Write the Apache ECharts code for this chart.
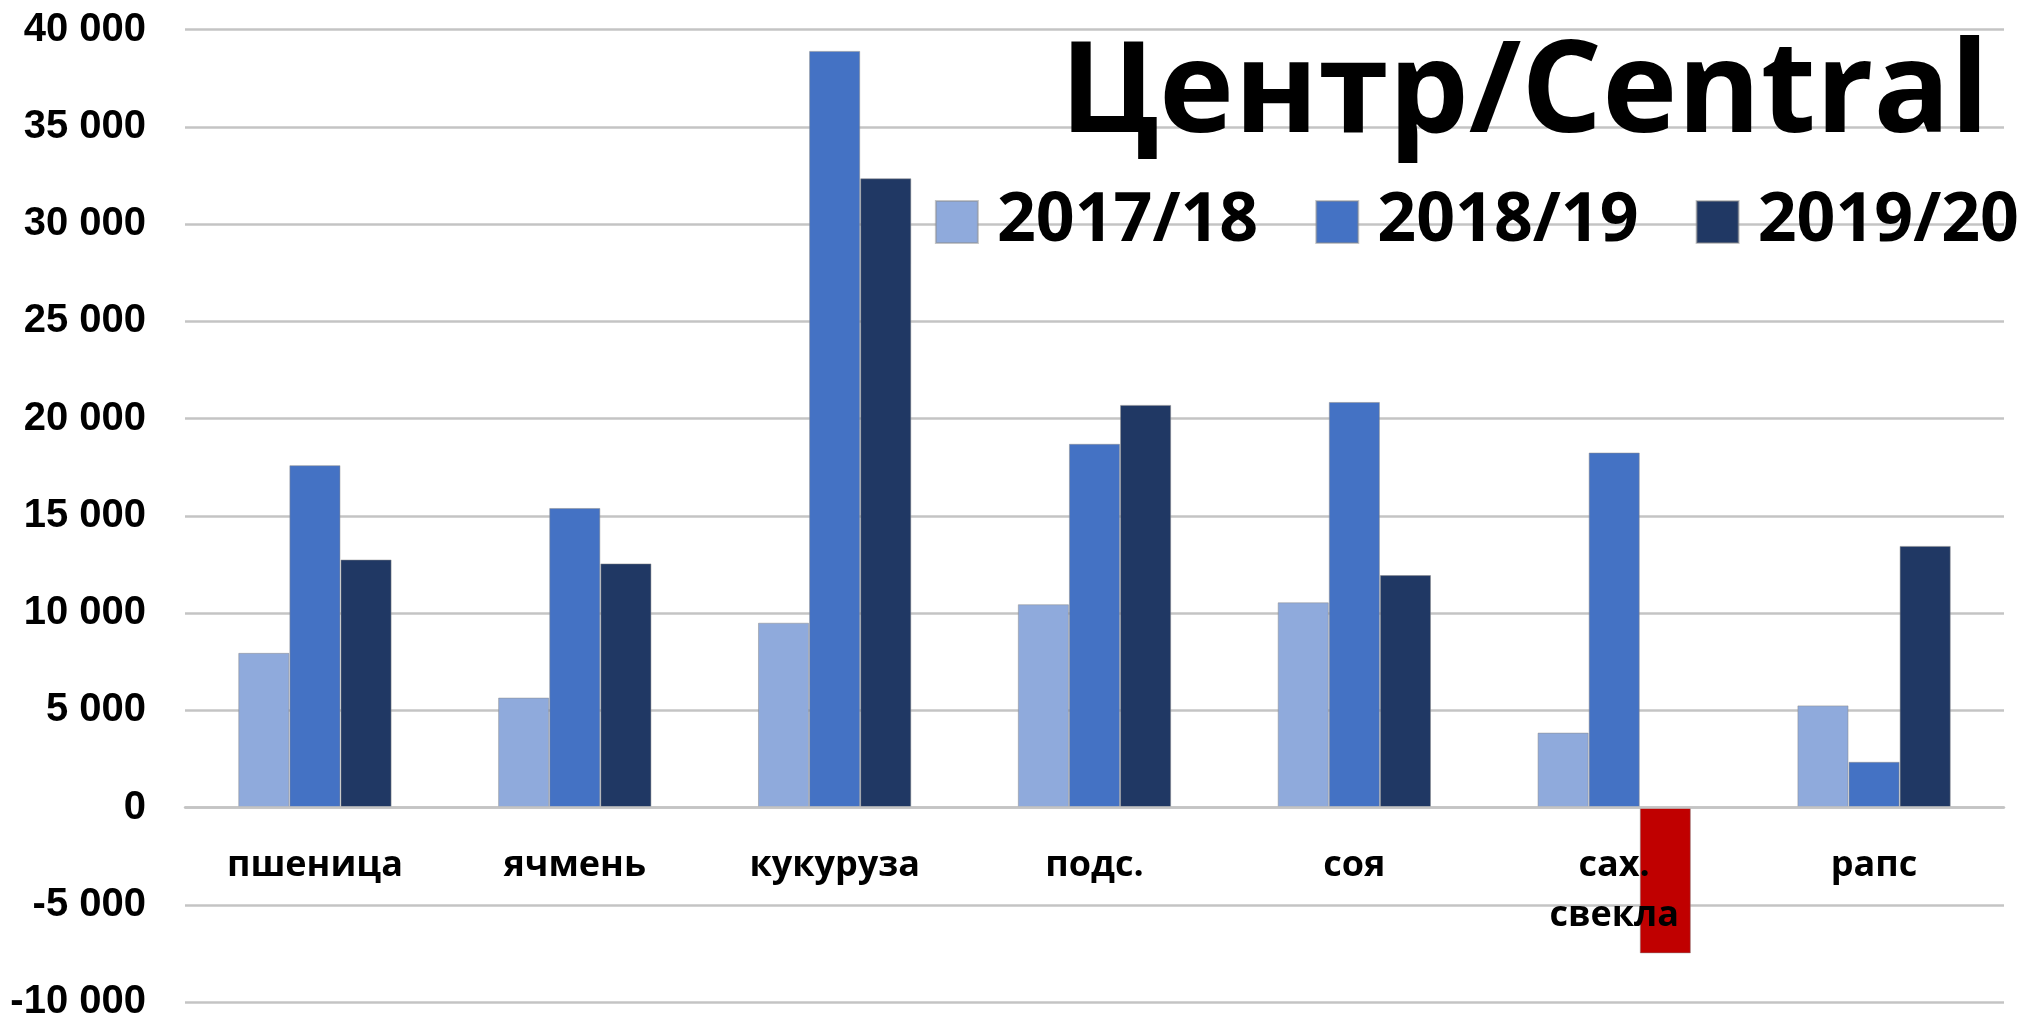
<!DOCTYPE html>
<html>
<head>
<meta charset="utf-8">
<title>Центр/Central</title>
<script src="https://cdn.jsdelivr.net/npm/echarts@6/dist/echarts.min.js"></script>
<style>
  html, body {
    margin: 0;
    padding: 0;
    background: #fff;
  }
  #chart {
    width: 2028px;
    height: 1017px;
  }
</style>
</head>
<body>
<div id="chart"></div>
<script>
const categories = ['пшеница', 'ячмень', 'кукуруза', 'подс.', 'соя', 'сах.\nсвекла', 'рапс']
const seriesNames = ['2017/18', '2018/19', '2019/20']
const data2017 = [7950, 5650, 9500, 10450, 10550, 3850, 5250]
const data2018 = [17600, 15400, 38900, 18700, 20850, 18250, 2350]
const data2019 = [12750, 12550, 32350, 20700, 11950, -7500, 13450]
const colors = ['#8FAADC', '#4472C4', '#203864']
const negativeColor = '#C00000'

const yMin = -10000
const yMax = 40000
const gridTop = 29.5
const gridBottom = 15
const chartHeight = 1017

const gridLine = { color: '#c4c4c4', width: 2.5 }

// negative values get the red fill, like the original excel chart
function toItems(values, color) {
  return values.map(v => ({
    value: v,
    itemStyle: { color: v < 0 ? negativeColor : color }
  }))
}

// category labels sit under the zero line, not at the bottom of the grid
const plotHeight = chartHeight - gridTop - gridBottom
const zeroOffset = -plotHeight * (0 - yMin) / (yMax - yMin)

const chart = echarts.init(document.getElementById('chart'))
chart.setOption({
  animation: false,
  color: colors,
  title: {
    text: 'Центр/Central',
    right: 34,
    top: 27,
    textStyle: {
      fontFamily: 'Open Sans',
      fontWeight: 'bold',
      fontSize: 127,
      lineHeight: 127,
      color: '#000'
    }
  },
  legend: {
    data: seriesNames,
    right: 4,
    top: 183,
    itemWidth: 42,
    itemHeight: 42,
    itemGap: 57,
    icon: 'rect',
    textStyle: {
      fontFamily: 'Open Sans',
      fontWeight: 'bold',
      fontSize: 68,
      lineHeight: 42,
      color: '#000',
      padding: [0, 0, 0, 14]
    }
  },
  grid: {
    left: 185,
    right: 24,
    top: gridTop,
    bottom: gridBottom,
    containLabel: false,
    outerBoundsMode: 'none'
  },
  xAxis: {
    type: 'category',
    data: categories,
    z: 5,
    offset: zeroOffset,
    axisLine: { onZero: false, lineStyle: gridLine },
    axisTick: { show: false },
    axisLabel: {
      margin: 33,
      interval: 0,
      fontFamily: 'Open Sans',
      fontWeight: 'bold',
      fontSize: 36,
      lineHeight: 50,
      color: '#000'
    }
  },
  yAxis: {
    type: 'value',
    min: yMin,
    max: yMax,
    interval: 5000,
    axisLine: { show: false },
    axisTick: { show: false },
    splitLine: { lineStyle: gridLine },
    axisLabel: {
      margin: 39,
      fontFamily: 'Liberation Sans',
      fontWeight: 'bold',
      fontSize: 40,
      color: '#000',
      formatter: v => {
        const s = Math.abs(v).toString().replace(/\B(?=(\d{3})+(?!\d))/g, ' ')
        return (v < 0 ? '-' : '') + s
      }
    }
  },
  series: [
    {
      name: seriesNames[0],
      type: 'bar',
      barGap: '0%',
      barCategoryGap: '41%',
      itemStyle: { borderColor: 'rgba(140,140,140,0.5)', borderWidth: 1 },
      data: toItems(data2017, colors[0])
    },
    {
      name: seriesNames[1],
      type: 'bar',
      barGap: '0%',
      barCategoryGap: '41%',
      itemStyle: { borderColor: 'rgba(140,140,140,0.5)', borderWidth: 1 },
      data: toItems(data2018, colors[1])
    },
    {
      name: seriesNames[2],
      type: 'bar',
      barGap: '0%',
      barCategoryGap: '41%',
      itemStyle: { borderColor: 'rgba(140,140,140,0.5)', borderWidth: 1 },
      data: toItems(data2019, colors[2])
    }
  ]
})
</script>
</body>
</html>
